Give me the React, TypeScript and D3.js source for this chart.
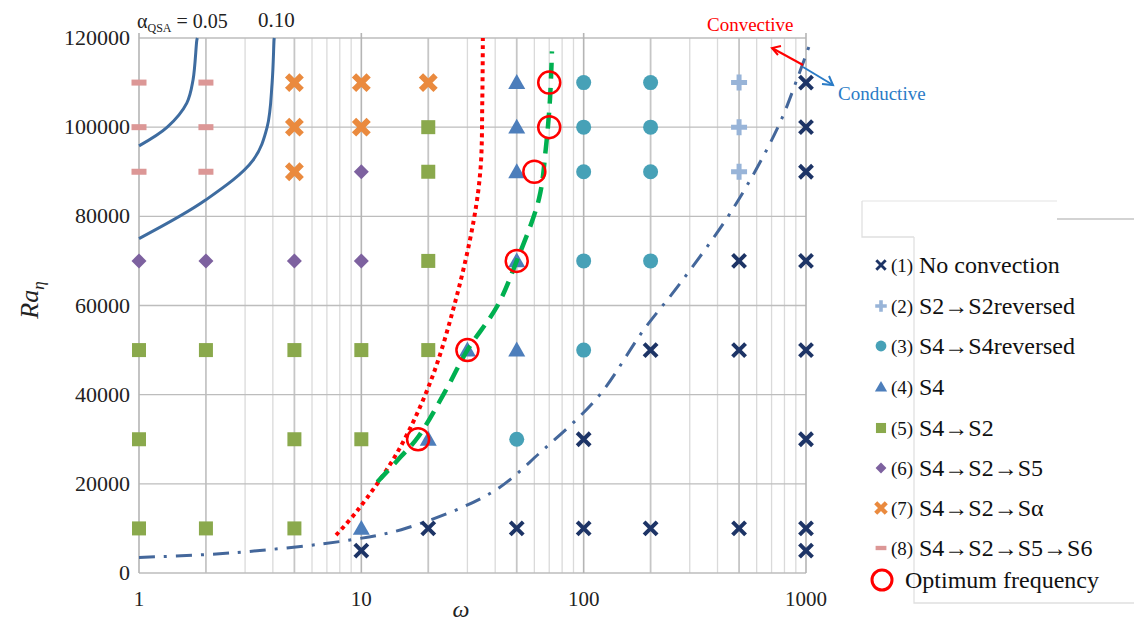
import React from "react";
import * as d3 from "d3";

type P = [number, number];

// ---- data ----
const xTicks = [1, 10, 100, 1000];
const yTicks = [0, 20000, 40000, 60000, 80000, 100000, 120000];

const noConvection: P[] = [
  [10, 5000], [20, 10000], [50, 10000], [100, 10000], [200, 10000], [500, 10000], [1000, 10000],
  [1000, 5000], [100, 30000], [1000, 30000], [200, 50000], [500, 50000], [1000, 50000],
  [500, 70000], [1000, 70000], [1000, 90000], [1000, 100000], [1000, 110000],
];
const s2Reversed: P[] = [[500, 90000], [500, 100000], [500, 110000]];
const s4Reversed: P[] = [
  [100, 110000], [200, 110000], [100, 100000], [200, 100000], [100, 90000], [200, 90000],
  [100, 70000], [200, 70000], [100, 50000], [50, 30000],
];
const s4: P[] = [
  [50, 110000], [50, 100000], [50, 90000], [50, 70000], [50, 50000], [30, 50000], [20, 30000], [10, 10000],
];
const s4s2: P[] = [
  [20, 100000], [20, 90000], [20, 70000],
  [1, 50000], [2, 50000], [5, 50000], [10, 50000], [20, 50000],
  [1, 30000], [5, 30000], [10, 30000],
  [1, 10000], [2, 10000], [5, 10000],
];
const s4s2s5: P[] = [[1, 70000], [2, 70000], [5, 70000], [10, 70000], [10, 90000]];
const s4s2sAlpha: P[] = [[5, 110000], [10, 110000], [20, 110000], [5, 100000], [10, 100000], [5, 90000]];
const s4s2s5s6: P[] = [[1, 110000], [2, 110000], [1, 100000], [2, 100000], [1, 90000], [2, 90000]];
const optimum: P[] = [[18, 30000], [30, 50000], [50, 70000], [60, 90000], [70, 100000], [70, 110000]];

const convectiveCurve: P[] = [
  [7.7, 8500], [9.6, 14000], [14.5, 27000], [20.5, 43000], [26.5, 61000], [32, 79000],
  [34.4, 91000], [35, 106000], [35.2, 120000],
];
const optimumCurve: P[] = [
  [11.8, 20400], [15, 26000], [18, 30500], [24, 41000], [30, 50000], [41, 60000],
  [50, 70000], [63, 84000], [67.5, 95000], [70.5, 106000], [72, 117000],
];
const conductiveCurve: P[] = [
  [1, 3500], [2.6, 4500], [8.9, 7400], [16, 10100], [39, 18200], [64, 27100], [116, 39500],
  [186, 54500], [272, 65000], [475, 82100], [748, 100000], [920, 111300], [1030, 118000],
];
const alpha005: P[] = [[1, 95800], [1.34, 100000], [1.64, 105400], [1.75, 110600], [1.82, 119500], [1.83, 120000]];
const alpha010: P[] = [[1, 75000], [2, 83700], [3.26, 92600], [3.77, 100000], [3.97, 110000], [4.05, 119500], [4.06, 120000]];

const dataXs = [2, 5, 20, 50, 200, 500];

const legendLabels = [
  "No convection", "S2\u2192S2reversed", "S4\u2192S4reversed", "S4", "S4\u2192S2",
  "S4\u2192S2\u2192S5", "S4\u2192S2\u2192S\u03b1", "S4\u2192S2\u2192S5\u2192S6",
];

// ---- styling ----
const C = {
  navy: "#1d3466",
  plus: "#98b4d8",
  teal: "#47a1b7",
  tri: "#4d7ebb",
  green: "#8aa94c",
  purple: "#7d619f",
  orange: "#ea8a3e",
  pink: "#dc9796",
  red: "#ff0000",
  optGreen: "#00b050",
  dashdot: "#44679b",
  alpha: "#3e6ca0",
};

const W = 1134, H = 625;
const x = d3.scaleLog().domain([1, 1000]).range([139, 806]);
const y = d3.scaleLinear().domain([0, 120000]).range([573, 38]);

const serif = "Liberation Serif, Tinos, DejaVu Serif, serif";
const TS = { fontFamily: serif };

function Marker({ kind, cx, cy }: { kind: number; cx: number; cy: number }) {
  switch (kind) {
    case 0: {
      const s = 6.5;
      return (
        <path d={`M${cx - s},${cy - s}L${cx + s},${cy + s}M${cx - s},${cy + s}L${cx + s},${cy - s}`}
          stroke={C.navy} strokeWidth={4} strokeLinecap="butt" />
      );
    }
    case 1: {
      const s = 8;
      return (
        <path d={`M${cx - s},${cy}L${cx + s},${cy}M${cx},${cy - s}L${cx},${cy + s}`}
          stroke={C.plus} strokeWidth={5} />
      );
    }
    case 2:
      return <circle cx={cx} cy={cy} r={7.5} fill={C.teal} />;
    case 3: {
      const s = 8.5;
      return <path d={`M${cx},${cy - s}L${cx + s},${cy + s * 0.75}L${cx - s},${cy + s * 0.75}Z`} fill={C.tri} />;
    }
    case 4:
      return <rect x={cx - 7} y={cy - 7} width={14} height={14} fill={C.green} />;
    case 5: {
      const s = 7.5;
      return <path d={`M${cx},${cy - s}L${cx + s},${cy}L${cx},${cy + s}L${cx - s},${cy}Z`} fill={C.purple} />;
    }
    case 6: {
      const s = 5.2;
      return (
        <path d={`M${cx - s},${cy - s}L${cx + s},${cy + s}M${cx - s},${cy + s}L${cx + s},${cy - s}`}
          stroke={C.orange} strokeWidth={6} strokeLinecap="square" />
      );
    }
    case 7:
      return <rect x={cx - 7.5} y={cy - 3} width={15} height={6} fill={C.pink} />;
    default:
      return <circle cx={cx} cy={cy} r={11} fill="none" stroke={C.red} strokeWidth={2.5} />;
  }
}

export default function App() {
  const series: P[][] = [noConvection, s2Reversed, s4Reversed, s4, s4s2, s4s2s5, s4s2sAlpha, s4s2s5s6];
  const line = d3
    .line<P>()
    .x((d) => x(d[0]))
    .y((d) => y(d[1]))
    .curve(d3.curveCatmullRom.alpha(0.5));

  const minorX: number[] = [];
  for (const dec of [1, 10, 100]) for (let k = 2; k <= 9; k++) minorX.push(dec * k);

  const legendY = [265, 306, 346, 387, 428, 468, 508, 548];

  return (
    <svg width={W} height={H} style={{ position: "absolute", left: 0, top: 0, background: "#fff", fontFamily: serif }}>
      {/* gridlines */}
      {minorX.map((v) => {
        const strong = dataXs.includes(v);
        return (
          <line key={"mx" + v} x1={x(v)} x2={x(v)} y1={y(120000)} y2={y(0)}
            stroke={strong ? "#c6c6c6" : "#dadada"} strokeWidth={strong ? 1.8 : 1.3} />
        );
      })}
      {yTicks.map((v) => (
        <line key={"gy" + v} x1={x(1)} x2={x(1000)} y1={y(v)} y2={y(v)} stroke="#bdbdbd" strokeWidth={1.3} />
      ))}
      {xTicks.map((v) => (
        <line key={"gx" + v} x1={x(v)} x2={x(v)} y1={y(120000) - 5} y2={y(0)} stroke="#b5b5b5" strokeWidth={1.6} />
      ))}
      {/* axis labels */}
      {yTicks.map((v) => (
        <text key={"yt" + v} style={TS} x={130} y={y(v) + 7} textAnchor="end" fontSize={22} fill="#222">{v}</text>
      ))}
      {xTicks.map((v) => (
        <text key={"xt" + v} style={TS} x={x(v)} y={606} textAnchor="middle" fontSize={21} fill="#222">{v}</text>
      ))}
      <text style={TS} x={461} y={617} fontSize={24} fontStyle="italic" textAnchor="middle" fill="#222">ω</text>
      <text style={TS} transform="translate(38,300) rotate(-90)" textAnchor="middle" fontSize={26} fontStyle="italic" fill="#222">
        Ra<tspan dy={6} fontSize={17}>η</tspan>
      </text>

      {/* alpha curves */}
      <path d={line(alpha005) || ""} fill="none" stroke={C.alpha} strokeWidth={3} />
      <path d={line(alpha010) || ""} fill="none" stroke={C.alpha} strokeWidth={3} />
      <text style={TS} x={137} y={28} fontSize={20} fill="#222">
        α<tspan dy={4} fontSize={12}>QSA</tspan><tspan dy={-4}> = 0.05</tspan>
      </text>
      <text style={TS} x={258} y={27} fontSize={21} fill="#222">0.10</text>

      {/* boundary curves */}
      <path d={line(conductiveCurve) || ""} fill="none" stroke={C.dashdot} strokeWidth={3}
        strokeDasharray="16 9 3 9" />

      {/* markers */}
      {series.map((s, i) =>
        s.map((d, j) => <Marker key={i + "-" + j} kind={i} cx={x(d[0])} cy={y(d[1])} />)
      )}

      <path d={line(convectiveCurve) || ""} fill="none" stroke={C.red} strokeWidth={4} strokeDasharray="4 4" />
      <path d={line(optimumCurve) || ""} fill="none" stroke={C.optGreen} strokeWidth={4.5} strokeDasharray="16 9" />
      {optimum.map((d, j) => <Marker key={"o" + j} kind={8} cx={x(d[0])} cy={y(d[1])} />)}

      {/* annotations */}
      <text style={TS} x={707} y={31} fontSize={19} fill={C.red}>Convective</text>
      <line x1={803} y1={65} x2={772} y2={48} stroke={C.red} strokeWidth={2} />
      <path d="M781,46 L772,48 L778,55" fill="none" stroke={C.red} strokeWidth={2} />
      <line x1={803} y1={67} x2={833} y2={85} stroke="#2a7bc6" strokeWidth={2} />
      <path d="M822,84 L833,85 L829,76" fill="none" stroke="#2a7bc6" strokeWidth={2} />
      <text style={TS} x={838} y={100} fontSize={19} fill="#2a7bc6">Conductive</text>

      {/* legend frame */}
      <path d="M862,201 L1057,201" stroke="#ececec" strokeWidth={1.3} fill="none" />
      <path d="M862,201 L862,237 L914,237" stroke="#e0e0e0" strokeWidth={1.3} fill="none" />
      <path d="M1057,219 L1134,219" stroke="#c4c4c4" strokeWidth={1.3} fill="none" />
      <path d="M914,237 L914,603 L1134,603" stroke="#e0e0e0" strokeWidth={1.3} fill="none" />

      {legendLabels.map((lab, i) => (
        <g key={"lg" + i}>
          <g transform={`translate(${881},${legendY[i]}) scale(0.72) translate(${-881},${-legendY[i]})`}>
            <Marker kind={i} cx={881} cy={legendY[i]} />
          </g>
          <text style={TS} x={891} y={legendY[i] + 7} fontSize={19} fill="#111">({i + 1})</text>
          <text style={TS} x={919} y={legendY[i] + 8} fontSize={24} fill="#111">{lab}</text>
        </g>
      ))}
      <circle cx={882} cy={580} r={10} fill="none" stroke={C.red} strokeWidth={3} />
      <text style={TS} x={905} y={588} fontSize={24} fill="#111">Optimum frequency</text>
    </svg>
  );
}
